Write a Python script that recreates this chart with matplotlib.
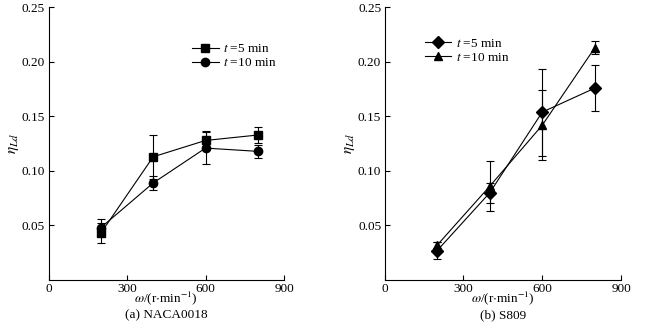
import matplotlib
matplotlib.use("Agg")
import matplotlib.pyplot as plt

plt.rcParams["font.family"] = ["Liberation Serif", "DejaVu Serif"]
plt.rcParams["mathtext.fontset"] = "stix"
plt.rcParams["font.size"] = 9.5

# rotational speed (r/min)
omega = [200, 400, 600, 800]

# (a) NACA0018
naca_t5 = [0.043, 0.113, 0.128, 0.133]
naca_t5_err = [0.009, 0.020, 0.009, 0.007]
naca_t10 = [0.048, 0.089, 0.121, 0.118]
naca_t10_err = [0.008, 0.006, 0.015, 0.006]

# (b) S809
s809_t5 = [0.027, 0.080, 0.154, 0.176]
s809_t5_err = [0.008, 0.009, 0.040, 0.021]
s809_t10 = [0.032, 0.086, 0.142, 0.213]
s809_t10_err = [0.003, 0.023, 0.032, 0.006]

x_ticks = [0, 300, 600, 900]
y_ticks = [0.05, 0.10, 0.15, 0.20, 0.25]
labels = [r"$t$ =5 min", r"$t$ =10 min"]

fig = plt.figure(figsize=(6.52, 3.25), dpi=100)
ax1 = fig.add_axes([0.0744, 0.1385, 0.3612, 0.8385])
ax2 = fig.add_axes([0.5900, 0.1385, 0.3625, 0.8385])


def draw_panel(ax, s1, e1, m1, s2, e2, m2, leg_xy, caption):
    kw = dict(color="black", lw=0.8, elinewidth=0.8, capsize=3.2, capthick=0.8,
              ms=6, mfc="black", mec="black")
    ax.errorbar(omega, s1, yerr=e1, marker=m1, label=labels[0], **kw)
    ax.errorbar(omega, s2, yerr=e2, marker=m2, label=labels[1], **kw)
    ax.set_xlim(0, 900)
    ax.set_ylim(0, 0.25)
    ax.set_xticks(x_ticks)
    ax.set_yticks(y_ticks)
    ax.set_yticklabels(["%.2f" % v for v in y_ticks])
    ax.tick_params(direction="in", length=3.5, width=0.8, labelsize=9.5, pad=2.5)
    for s in ["top", "right"]:
        ax.spines[s].set_visible(False)
    for s in ["left", "bottom"]:
        ax.spines[s].set_linewidth(0.8)
    ax.set_xlabel(r"$\omega$/(r$\cdot$min$^{-1}$)", va="center")
    ax.xaxis.set_label_coords(0.5, -0.068)
    ax.set_ylabel(r"$\eta_{Ld}$", fontsize=11, va="center")
    ax.yaxis.set_label_coords(-0.148, 0.5)
    handles, labs = ax.get_legend_handles_labels()
    handles = [h[0] for h in handles]
    ax.legend(handles, labs, loc="upper left", bbox_to_anchor=leg_xy,
              frameon=False, borderpad=0, borderaxespad=0, handlelength=2.0,
              handletextpad=0.35, labelspacing=0.15, numpoints=1, fontsize=9.5)
    pos = ax.get_position()
    fig.text((pos.x0 + pos.x1) / 2, 0.03, caption, ha="center", va="center",
             fontsize=9.5)


draw_panel(ax1, naca_t5, naca_t5_err, "s", naca_t10, naca_t10_err, "o",
           (0.61, 0.87), "(a) NACA0018")
draw_panel(ax2, s809_t5, s809_t5_err, "D", s809_t10, s809_t10_err, "^",
           (0.17, 0.89), "(b) S809")

fig.savefig("out.png", dpi=100)
